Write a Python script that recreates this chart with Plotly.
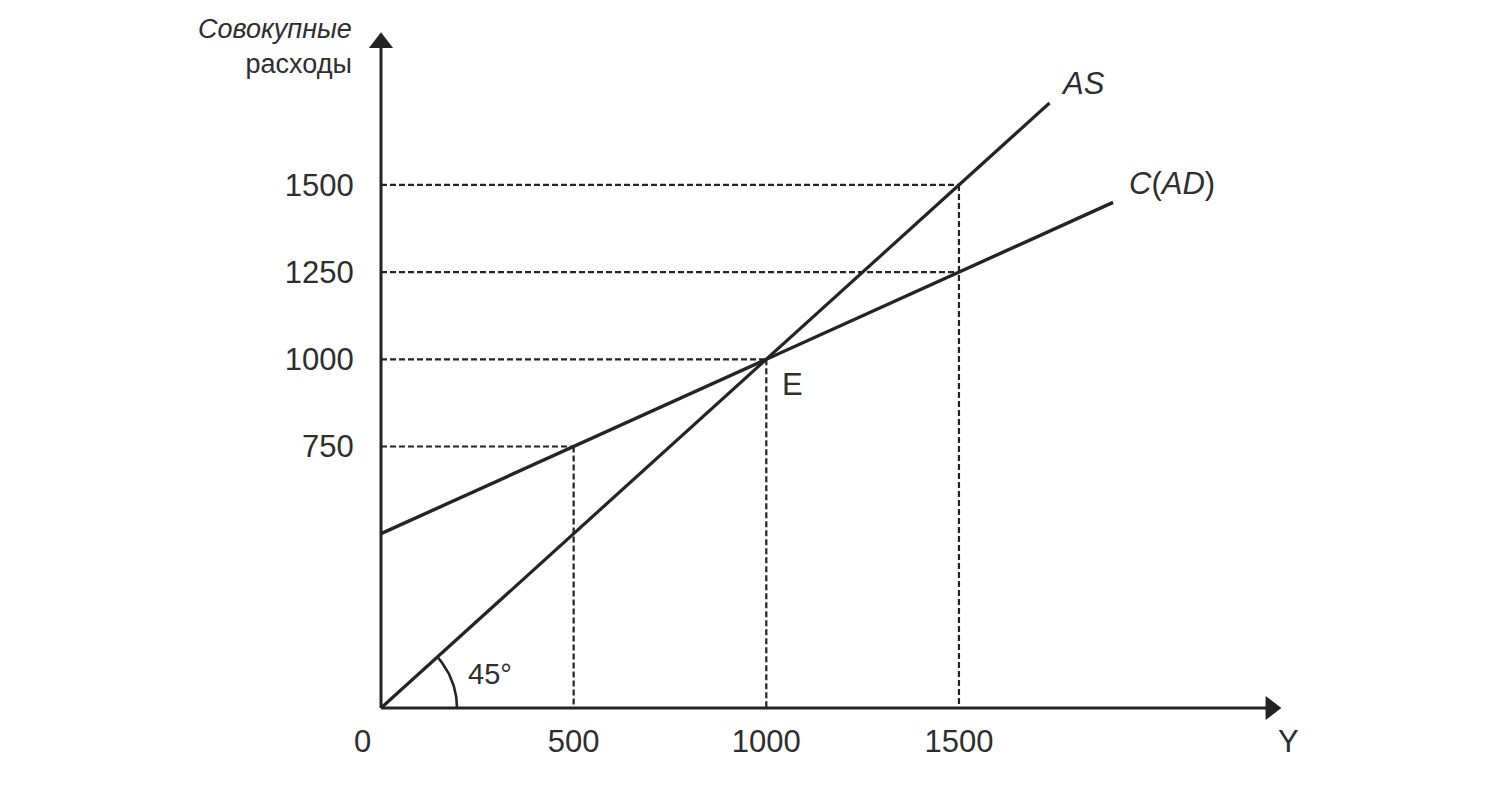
import numpy as np
import plotly.graph_objects as go

# --- data ---
as_x = [0, 1735]                          # AS: 45-degree line
as_y = [0, 1735]
ad_x = [0, 1900]                          # C(AD) line
ad_y = [500, 1450]
points_x = [500, 1000, 1500, 1500]        # dashed guide points
points_y = [750, 1000, 1250, 1500]
x_ticks = [500, 1000, 1500]
y_ticks = [750, 1000, 1250, 1500]
x_tip, y_tip = 2338, 1939                 # ends of the axis arrows

# --- geometry (page offset 8px from body margin) ---
W, H = 1476, 775
L, R, T, B = 361, 199, 20, 64
PW, PH = W - L - R, H - T - B
SX, SY = 0.3853, 0.3487                   # pixels per unit
ORG_X, ORG_Y = 373, 700                   # origin in figure pixels
X0 = -(ORG_X - L) / SX
X1 = X0 + PW / SX
Y0 = -((H - B) - ORG_Y) / SY
Y1 = Y0 + PH / SY


def paper(px, py):
    """screen pixel -> paper coords"""
    return (px - 8 - L) / PW, ((H - B) - (py - 8)) / PH


LINE = "#242424"
TXT = "#2e2e2e"
FONT = "Liberation Sans, Arial, sans-serif"
FS = 31

fig = go.Figure()

# dashed guides
for px, py in zip(points_x, points_y):
    fig.add_trace(go.Scatter(x=[0, px], y=[py, py], mode="lines",
                             line=dict(color=LINE, width=2.2, dash="6px,3px"),
                             hoverinfo="skip", showlegend=False))
for px, py in zip(points_x, points_y):
    if py == 1250:
        continue
    fig.add_trace(go.Scatter(x=[px, px], y=[py, 0], mode="lines",
                             line=dict(color=LINE, width=2.2, dash="6px,3px"),
                             hoverinfo="skip", showlegend=False))

# axes
fig.add_trace(go.Scatter(x=[0, x_tip - 12 / SX], y=[0, 0], mode="lines",
                         line=dict(color=LINE, width=3), hoverinfo="skip", showlegend=False))
fig.add_trace(go.Scatter(x=[0, 0], y=[0, y_tip - 12 / SY], mode="lines",
                         line=dict(color=LINE, width=3), hoverinfo="skip", showlegend=False))
fig.add_trace(go.Scatter(x=[x_tip - 11 / SX], y=[0], mode="markers", cliponaxis=False,
                         marker=dict(symbol="triangle-right", size=21, color=LINE),
                         hoverinfo="skip", showlegend=False))
fig.add_trace(go.Scatter(x=[0], y=[y_tip - 11 / SY], mode="markers", cliponaxis=False,
                         marker=dict(symbol="triangle-up", size=21, color=LINE),
                         hoverinfo="skip", showlegend=False))

# main lines
fig.add_trace(go.Scatter(x=as_x, y=as_y, mode="lines", line=dict(color=LINE, width=3.2),
                         hoverinfo="skip", showlegend=False))
fig.add_trace(go.Scatter(x=ad_x, y=ad_y, mode="lines", line=dict(color=LINE, width=3.4),
                         hoverinfo="skip", showlegend=False))

# 45 degree arc (radius in pixels)
r = 76
t = np.linspace(0, np.arctan2(SY, SX), 30)
fig.add_trace(go.Scatter(x=r * np.cos(t) / SX, y=r * np.sin(t) / SY, mode="lines",
                         line=dict(color=LINE, width=2.6), hoverinfo="skip", showlegend=False))

fig.update_layout(
    width=W, height=H,
    margin=dict(l=L, r=R, t=T, b=B, autoexpand=False),
    paper_bgcolor="white", plot_bgcolor="white",
    font=dict(family=FONT, color=TXT),
    xaxis=dict(range=[X0, X1], showgrid=False, zeroline=False, showline=False,
               tickvals=x_ticks, ticktext=[str(v) for v in x_ticks],
               ticks="", ticklabelstandoff=1,
               tickfont=dict(size=FS, color=TXT)),
    yaxis=dict(range=[Y0, Y1], showgrid=False, zeroline=False, showline=False,
               tickvals=y_ticks, ticktext=[str(v) for v in y_ticks],
               ticks="outside", ticklen=8, tickcolor="rgba(0,0,0,0)",
               tickfont=dict(size=FS, color=TXT)),
)

ann = []
px_, py_ = paper(354, 46)
ann.append(dict(x=px_, y=py_, xref="paper", yref="paper", xanchor="right", yanchor="middle",
                align="right", showarrow=False,
                text="<i>Совокупные</i><br>расходы", font=dict(size=27, color=TXT)))
px_, py_ = paper(1288, 741)
ann.append(dict(x=px_, y=py_, xref="paper", yref="paper", xanchor="center", yanchor="middle",
                showarrow=False, text="Y", font=dict(size=FS, color=TXT)))
px_, py_ = paper(362, 742)
ann.append(dict(x=px_, y=py_, xref="paper", yref="paper", xanchor="center", yanchor="middle",
                showarrow=False, text="0", font=dict(size=FS, color=TXT)))
ann.append(dict(x=(1083 - 381) / SX, y=(708 - 83) / SY, xref="x", yref="y", showarrow=False,
                text="<i>AS</i>", font=dict(size=FS, color=TXT)))
ann.append(dict(x=(1172 - 381) / SX, y=(708 - 183) / SY, xref="x", yref="y", showarrow=False,
                text="<i>C</i>(<i>AD</i>)", font=dict(size=FS, color=TXT)))
ann.append(dict(x=(792 - 381) / SX, y=(708 - 384) / SY, xref="x", yref="y", showarrow=False,
                text="E", font=dict(size=FS, color=TXT)))
ann.append(dict(x=(490 - 381) / SX, y=(708 - 674) / SY, xref="x", yref="y", showarrow=False,
                text="45°", font=dict(size=29, color=TXT)))
fig.update_layout(annotations=ann)

fig.write_html("out.html")
